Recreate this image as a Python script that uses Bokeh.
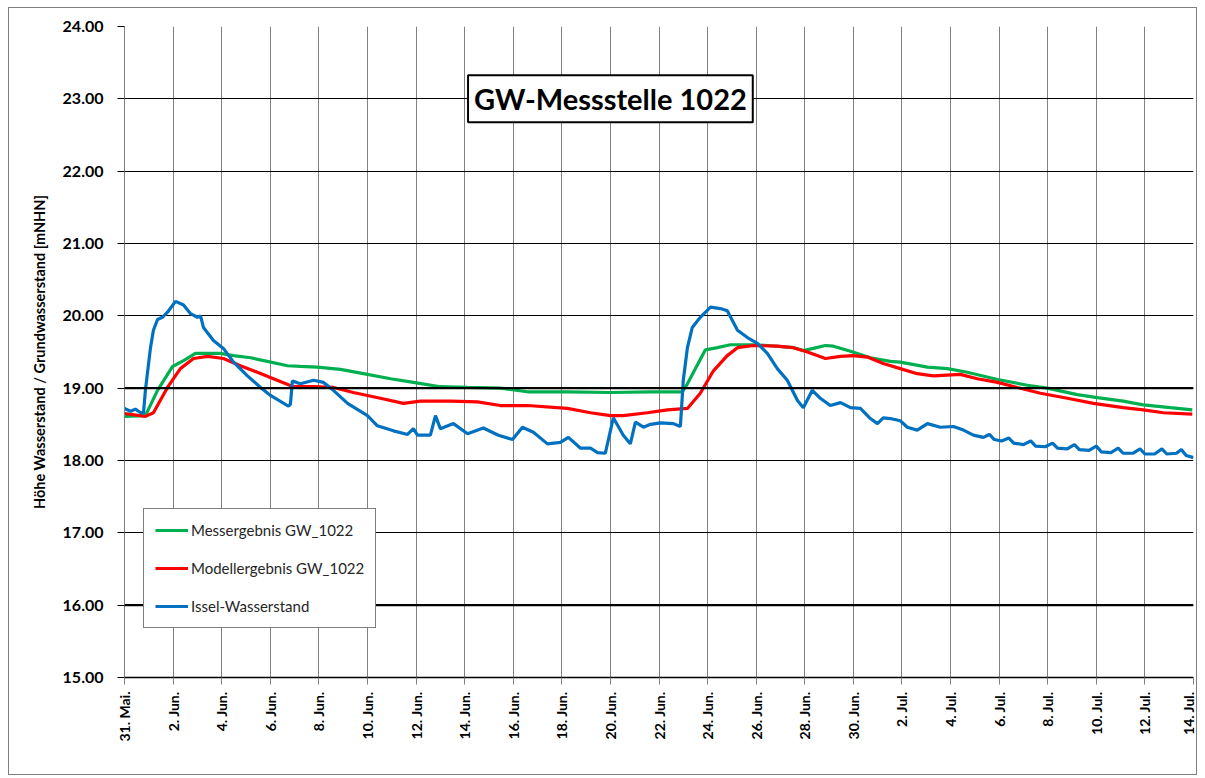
import math
from bokeh.plotting import figure
from bokeh.models import FixedTicker, Span, Label, Legend, LegendItem
from bokeh.embed import file_html
from bokeh.resources import INLINE

# x = days since 31 May 00:00
x_ticks = list(range(0, 45, 2))
x_tick_labels = ["31. Mai.", "2. Jun.", "4. Jun.", "6. Jun.", "8. Jun.", "10. Jun.",
                 "12. Jun.", "14. Jun.", "16. Jun.", "18. Jun.", "20. Jun.", "22. Jun.",
                 "24. Jun.", "26. Jun.", "28. Jun.", "30. Jun.", "2. Jul.", "4. Jul.",
                 "6. Jul.", "8. Jul.", "10. Jul.", "12. Jul.", "14. Jul."]
y_ticks = [15, 16, 17, 18, 19, 20, 21, 22, 23, 24]
y_tick_labels = ["15.00", "16.00", "17.00", "18.00", "19.00", "20.00", "21.00", "22.00", "23.00", "24.00"]

mess_x = [0.0, 0.86, 1.36, 1.98, 2.43, 2.92, 3.95, 4.49, 5.19, 5.88, 6.71, 7.24, 7.94, 8.89,
          10.0, 10.95, 11.89, 13.0, 14.12, 15.47, 16.58, 18.23, 20.0, 21.65, 22.96, 23.17,
          23.91, 24.40, 24.94, 25.88, 26.46, 27.53, 27.94, 28.35, 28.85, 29.18, 29.88, 30.70,
          31.52, 31.93, 33.05, 33.87, 34.69, 35.93, 37.16, 37.98, 39.22, 40.04, 41.11, 41.93,
          43.05, 43.95]
mess_y = [18.61, 18.62, 18.97, 19.30, 19.38, 19.48, 19.48, 19.45, 19.42, 19.37, 19.31, 19.30,
          19.29, 19.26, 19.19, 19.13, 19.08, 19.02, 19.01, 19.00, 18.95, 18.95, 18.94, 18.95,
          18.95, 19.06, 19.53, 19.56, 19.60, 19.60, 19.59, 19.56, 19.52, 19.55, 19.59, 19.58,
          19.51, 19.42, 19.37, 19.36, 19.29, 19.27, 19.22, 19.12, 19.04, 19.00, 18.91, 18.87,
          18.82, 18.77, 18.73, 18.70]

modell_x = [0.0, 0.86, 1.19, 1.77, 2.30, 2.84, 3.42, 4.07, 4.77, 5.47, 6.13, 6.95, 7.78, 8.60,
            9.42, 10.53, 11.48, 12.18, 13.42, 14.53, 15.47, 16.58, 18.23, 19.18, 20.0, 20.53,
            21.52, 22.35, 23.17, 23.70, 24.24, 24.81, 25.23, 25.88, 26.87, 27.53, 28.11, 28.85,
            29.47, 30.0, 30.58, 31.23, 31.93, 32.63, 33.29, 34.40, 35.10, 35.93, 36.75, 37.70,
            38.81, 39.88, 41.11, 41.93, 42.76, 43.95]
modell_y = [18.65, 18.61, 18.66, 19.01, 19.27, 19.41, 19.44, 19.41, 19.31, 19.22, 19.13, 19.02,
            19.02, 19.01, 18.94, 18.86, 18.79, 18.82, 18.82, 18.81, 18.76, 18.76, 18.72, 18.66,
            18.62, 18.62, 18.66, 18.70, 18.72, 18.93, 19.24, 19.45, 19.56, 19.59, 19.58, 19.56,
            19.50, 19.41, 19.44, 19.45, 19.43, 19.34, 19.27, 19.20, 19.17, 19.19, 19.13, 19.08,
            19.01, 18.93, 18.86, 18.79, 18.73, 18.70, 18.66, 18.64]

issel_x = [0.0, 0.25, 0.45, 0.62, 0.78, 0.86, 1.07, 1.19, 1.36, 1.56, 1.77, 2.10, 2.43, 2.72,
           3.0, 3.13, 3.25, 3.66, 4.07, 4.49, 5.06, 5.60, 6.01, 6.75, 6.83, 6.91, 7.08, 7.24,
           7.78, 8.19, 8.60, 9.18, 10.0, 10.41, 11.07, 11.65, 11.89, 12.06, 12.59, 12.80, 13.0,
           13.54, 14.12, 14.77, 15.39, 15.97, 16.38, 16.83, 17.41, 17.94, 18.27, 18.77, 19.18,
           19.47, 19.79, 20.12, 20.53, 20.82, 21.03, 21.36, 21.65, 22.06, 22.59, 22.88, 23.0,
           23.17, 23.37, 23.70, 24.12, 24.53, 24.81, 25.23, 25.64, 26.05, 26.46, 26.87, 27.28,
           27.70, 27.94, 28.31, 28.64, 29.05, 29.47, 29.88, 30.29, 30.70, 30.99, 31.23, 31.52,
           31.93, 32.22, 32.63, 33.05, 33.58, 34.12, 34.53, 34.94, 35.35, 35.6, 35.8, 36.1,
           36.4, 36.6, 37.0, 37.3, 37.5, 37.9, 38.2, 38.4, 38.8, 39.1, 39.3, 39.7, 40.0, 40.2,
           40.6, 40.9, 41.1, 41.5, 41.8, 42.0, 42.4, 42.7, 42.9, 43.3, 43.5, 43.7, 44.0]
issel_y = [18.72, 18.68, 18.71, 18.67, 18.65, 18.97, 19.56, 19.80, 19.95, 19.98, 20.05, 20.20,
           20.15, 20.03, 19.98, 20.00, 19.84, 19.66, 19.55, 19.36, 19.17, 19.01, 18.90, 18.75,
           18.78, 19.10, 19.08, 19.06, 19.11, 19.08, 18.97, 18.79, 18.62, 18.48, 18.41, 18.36,
           18.44, 18.35, 18.35, 18.62, 18.44, 18.51, 18.37, 18.45, 18.35, 18.29, 18.46, 18.39,
           18.23, 18.25, 18.32, 18.17, 18.17, 18.11, 18.10, 18.59, 18.35, 18.23, 18.53, 18.46,
           18.50, 18.52, 18.51, 18.47, 19.11, 19.56, 19.84, 19.98, 20.12, 20.10, 20.07, 19.80,
           19.70, 19.62, 19.48, 19.27, 19.11, 18.83, 18.73, 18.97, 18.86, 18.76, 18.80, 18.73,
           18.72, 18.58, 18.51, 18.59, 18.58, 18.55, 18.46, 18.42, 18.51, 18.46, 18.47, 18.42,
           18.35, 18.32, 18.36, 18.29, 18.27, 18.31, 18.24, 18.22, 18.27, 18.20, 18.19, 18.24,
           18.17, 18.16, 18.22, 18.15, 18.14, 18.20, 18.12, 18.11, 18.17, 18.10, 18.10, 18.16,
           18.09, 18.09, 18.16, 18.09, 18.10, 18.15, 18.07, 18.04]

FONT = "Lato"

p = figure(width=1189, height=768, x_range=(0, 44), y_range=(15, 24),
           output_backend="svg", toolbar_location=None,
           min_border_left=115, min_border_right=5, min_border_top=18, min_border_bottom=99)
p.margin = (7, 0, 0, 8)
p.styles = {"border": "1px solid #7f7f7f"}
p.outline_line_color = None
p.background_fill_color = "white"
p.border_fill_color = "white"

# grids
p.xgrid.ticker = FixedTicker(ticks=x_ticks)
p.ygrid.ticker = FixedTicker(ticks=y_ticks)
p.xgrid.grid_line_color = "#808080"
p.xgrid.grid_line_width = 1
p.ygrid.grid_line_color = "black"
p.ygrid.grid_line_width = 1
for yy in (19, 16):
    p.add_layout(Span(location=yy, dimension="width", line_color="black", line_width=2.2))

# x axis
xa = p.xaxis[0]
xa.ticker = FixedTicker(ticks=x_ticks)
xa.major_label_overrides = {t: l for t, l in zip(x_ticks, x_tick_labels)}
xa.major_label_orientation = math.pi / 2
xa.major_label_text_font = FONT
xa.major_label_text_font_style = "bold"
xa.major_label_text_font_size = "14px"
xa.major_label_text_color = "black"
xa.axis_line_color = "black"
xa.axis_line_width = 1.5
xa.major_tick_line_color = "#808080"
xa.major_tick_out = 7
xa.major_tick_in = 0
xa.minor_tick_line_color = None
xa.major_label_standoff = 7

# y axis
ya = p.yaxis[0]
ya.ticker = FixedTicker(ticks=y_ticks)
ya.major_label_overrides = {t: l for t, l in zip(y_ticks, y_tick_labels)}
ya.major_label_text_font = FONT
ya.major_label_text_font_style = "bold"
ya.major_label_text_font_size = "16px"
ya.major_label_text_color = "black"
ya.axis_line_color = "#808080"
ya.major_tick_line_color = "black"
ya.major_tick_out = 7
ya.major_tick_in = 0
ya.minor_tick_line_color = None
ya.major_label_standoff = 14
ya.axis_label = "Höhe Wasserstand / Grundwasserstand [mNHN]"
ya.axis_label_text_font = FONT
ya.axis_label_text_font_style = "bold"
ya.axis_label_text_font_size = "14.5px"
ya.axis_label_text_color = "black"
ya.axis_label_standoff = 12

# series
r_mess = p.line(mess_x, mess_y, line_color="#00B050", line_width=3.2)
r_mod = p.line(modell_x, modell_y, line_color="#FF0000", line_width=3.2)
r_iss = p.line(issel_x, issel_y, line_color="#0070C0", line_width=3.2)

legend = Legend(items=[LegendItem(label="Messergebnis GW_1022", renderers=[r_mess]),
                       LegendItem(label="Modellergebnis GW_1022", renderers=[r_mod]),
                       LegendItem(label="Issel-Wasserstand", renderers=[r_iss])],
                location=(19, 49), orientation="vertical")
legend.label_text_font = FONT
legend.label_text_font_size = "15px"
legend.label_text_color = "#262626"
legend.glyph_width = 33
legend.glyph_height = 20
legend.label_height = 20
legend.label_standoff = 3
legend.spacing = 18
legend.padding = 11
legend.margin = 0
legend.border_line_color = "black"
legend.border_line_width = 1
legend.background_fill_color = "white"
legend.background_fill_alpha = 1
p.add_layout(legend)

title = Label(x=20, y=23.0, text="GW-Messstelle 1022", text_align="center",
              text_baseline="middle", text_font=FONT, text_font_style="bold",
              text_font_size="29px", text_color="black",
              border_line_color="black", border_line_width=2,
              background_fill_color="white", background_fill_alpha=1,
              padding=6)
p.add_layout(title)

open("out.html", "w").write(file_html(p, INLINE))
